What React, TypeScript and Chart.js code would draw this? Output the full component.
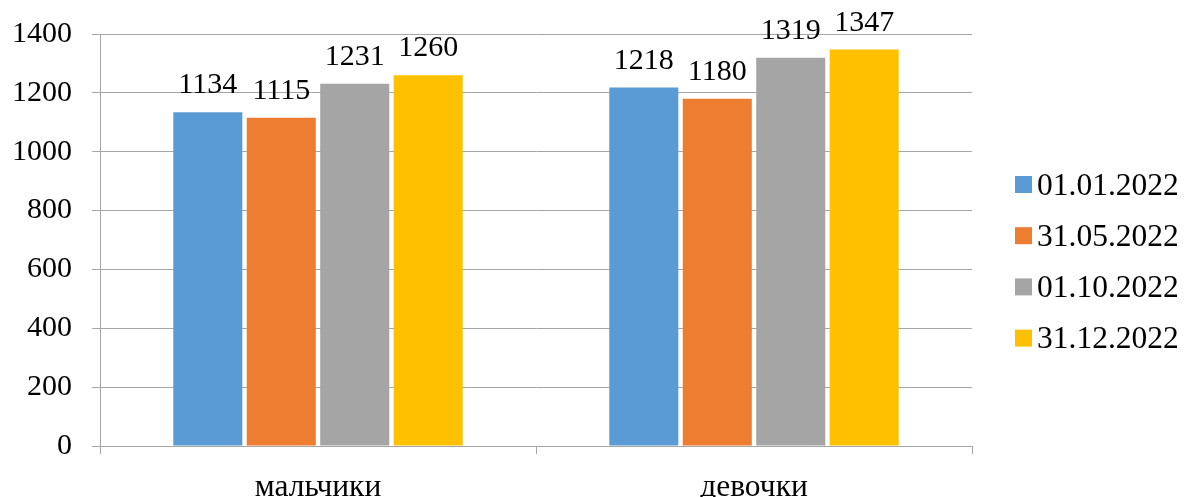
import React, { useEffect, useRef } from "react";
import { Chart, registerables } from "chart.js";

Chart.register(...registerables);

const categories = ["мальчики", "девочки"];
const seriesLabels = ["01.01.2022", "31.05.2022", "01.10.2022", "31.12.2022"];
const seriesColors = ["#5B9BD5", "#ED7D31", "#A5A5A5", "#FFC000"];
const values0101 = [1134, 1218];
const values3105 = [1115, 1180];
const values0110 = [1231, 1319];
const values3112 = [1260, 1347];
const yTicks = [0, 200, 400, 600, 800, 1000, 1200, 1400];

const FONT = '"Liberation Serif", "Times New Roman", serif';
const GRID = "#A6A6A6";

const labelsPlugin = {
  id: "valueLabels",
  afterDatasetsDraw(chart: any) {
    const ctx = chart.ctx;
    ctx.save();
    ctx.font = `30px ${FONT}`;
    ctx.fillStyle = "#000";
    ctx.textAlign = "center";
    ctx.textBaseline = "alphabetic";
    chart.data.datasets.forEach((ds: any, i: number) => {
      const meta = chart.getDatasetMeta(i);
      meta.data.forEach((bar: any, j: number) => {
        ctx.fillText(String(ds.data[j]), bar.x, bar.y - 19);
      });
    });
    ctx.restore();
  },
};

const legendPlugin = {
  id: "customLegend",
  afterDraw(chart: any) {
    const ctx = chart.ctx;
    ctx.save();
    ctx.font = `31.5px ${FONT}`;
    ctx.textAlign = "left";
    ctx.textBaseline = "alphabetic";
    const startY = 184.5;
    const step = 51.2;
    chart.data.datasets.forEach((ds: any, i: number) => {
      const cy = startY + i * step;
      ctx.fillStyle = ds.backgroundColor;
      ctx.fillRect(1015, cy - 8.5, 17, 17);
      ctx.fillStyle = "#000";
      ctx.fillText(ds.label, 1037, cy + 10);
    });
    ctx.restore();
  },
};

export default function App() {
  const ref = useRef<HTMLCanvasElement | null>(null);
  useEffect(() => {
    document.body.style.margin = "0";
    const seriesData = [values0101, values3105, values0110, values3112];
    const chart = new Chart(ref.current as HTMLCanvasElement, {
      type: "bar",
      data: {
        labels: categories,
        datasets: seriesLabels.map((label, i) => ({
          label,
          data: seriesData[i],
          backgroundColor: seriesColors[i],
          borderWidth: 0,
          categoryPercentage: 0.674,
          barPercentage: 0.94,
        })),
      },
      options: {
        animation: false,
        responsive: true,
        maintainAspectRatio: false,
        layout: { padding: { top: 34, right: 213, left: 0, bottom: 0 } },
        plugins: {
          legend: { display: false },
          tooltip: { enabled: false },
        },
        scales: {
          x: {
            offset: true,
            grid: {
              offset: true,
              drawOnChartArea: false,
              drawTicks: true,
              tickLength: 8,
              color: GRID,
            },
            border: { color: GRID, width: 1 },
            ticks: {
              color: "#000",
              font: { family: FONT, size: 31.5 },
              padding: 15,
            },
            afterFit: (s: any) => {
              s.height = 51;
            },
          },
          y: {
            min: 0,
            max: 1400,
            afterBuildTicks: (s: any) => {
              s.ticks = yTicks.map((v) => ({ value: v }));
            },
            grid: {
              color: GRID,
              tickLength: 8,
            },
            border: { color: GRID, width: 1 },
            ticks: {
              color: "#000",
              font: { family: FONT, size: 30 },
              padding: 20,
              callback: (v: any) => String(v),
            },
            afterFit: (s: any) => {
              s.width = 100;
              s.paddingTop = 0;
              s.paddingBottom = 0;
            },
          },
        },
      },
      plugins: [labelsPlugin, legendPlugin],
    });
    return () => chart.destroy();
  }, []);
  return (
    <div style={{ position: "fixed", left: 0, top: 0, width: 1185, height: 497 }}>
      <canvas ref={ref} />
    </div>
  );
}
